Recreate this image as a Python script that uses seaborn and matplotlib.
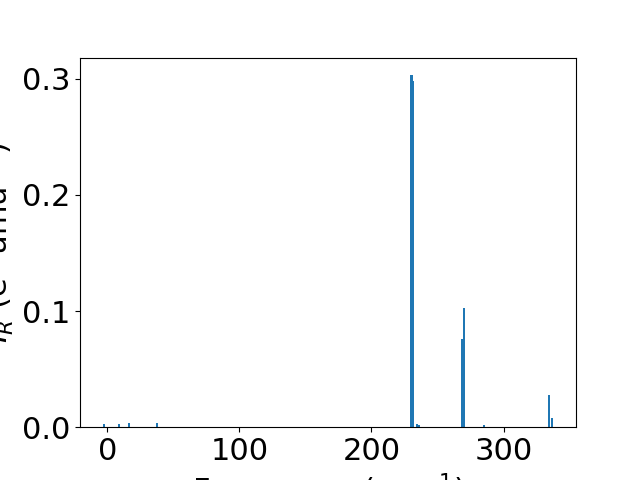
#!/usr/bin/env python3

import seaborn as sns
import matplotlib
matplotlib.use('Agg')
import matplotlib.pyplot as plt

# vibrational modes: frequency (cm^-1) and IR intensity
freqs = [-2.8, 8.7, 16.3, 37.9, 230.3, 231.7, 234.7, 236.2, 268.4, 269.9, 285.4, 334.6, 337.0]
intensities = [0.003, 0.0028, 0.004, 0.004, 0.303, 0.298, 0.003, 0.0015, 0.0763, 0.1023, 0.0017, 0.0275, 0.0077]

plt.rcParams['font.size'] = 22
colour = sns.color_palette('tab10')[0]

fig, ax = plt.subplots(figsize=(6.4, 4.8), dpi=100)
ax.bar(freqs, intensities, width=1.6, color=colour)
ax.set_xlabel('Frequency (cm$^{-1}$)')
ax.set_ylabel('$I_R$ (e$^2$ amu$^{-1}$)')
fig.savefig('out.png')
